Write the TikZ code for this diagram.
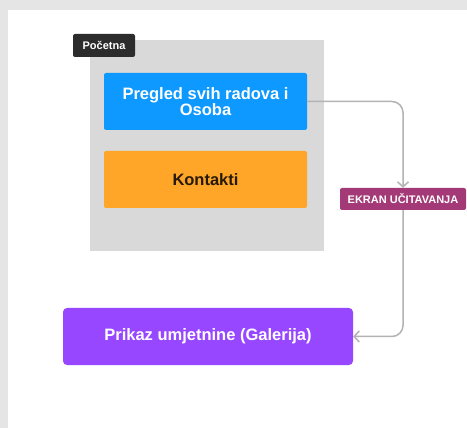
\documentclass[tikz,border=0pt]{standalone}
\usepackage{fontspec}
\setmainfont{Liberation Sans}
\usepackage{tikz}
\usetikzlibrary{positioning, arrows.meta}
\definecolor{frame}{HTML}{D9D9D9}
\definecolor{tagdark}{HTML}{2C2C2C}
\definecolor{boxblue}{HTML}{0D99FF}
\definecolor{boxorange}{HTML}{FFA629}
\definecolor{boxpurple}{HTML}{9747FF}
\definecolor{loading}{HTML}{A33A77}
\definecolor{wire}{HTML}{B3B3B3}
\newcommand{\boxtext}[1]{\fontsize{16.5}{17}\selectfont\bfseries #1}

\begin{document}
\begin{tikzpicture}[x=1pt, y=-1pt,
    box/.style={rectangle, rounded corners=2pt, minimum width=203pt, minimum height=57pt, align=center, inner sep=0pt},
    tag/.style={rectangle, rounded corners=2pt, text=white, font=\fontsize{11}{12}\selectfont\bfseries, inner sep=0pt},
    conn/.style={draw=wire, line width=1.5pt, rounded corners=11pt, -{Straight Barb[length=5pt, width=11pt]}}]
    \useasboundingbox (0,0) rectangle (467,428);
    \fill[black!10] (0,0) rectangle (467,428);
    \fill[white] (8,10) rectangle (467,428);
    \node (pocetna) at (207,145.5) [rectangle, fill=frame, minimum width=234pt, minimum height=211pt] {};
    \node (tagpocetna) at (104,45.5) [tag, fill=tagdark, minimum width=62pt, minimum height=23pt] {Početna};
    \node (pregled) at (205.5,101.5) [box, fill=boxblue, text=white] {\boxtext{Pregled svih radova i}\\[-1pt]\boxtext{Osoba}};
    \node (kontakti) at (205.5,179.5) [box, fill=boxorange, text=black!85!boxorange] {\boxtext{Kontakti}};
    \node (prikaz) at (208,336.5) [box, fill=boxpurple, text=white, minimum width=290pt, rounded corners=4pt] {\boxtext{Prikaz umjetnine (Galerija)}};
    \node (ekran) at (403,199) [tag, fill=loading, minimum width=126pt, minimum height=22pt] {EKRAN UČITAVANJA};
    \draw[conn] (pregled.east) -| (ekran.north);
    \draw[conn] (ekran.south) |- (prikaz.east);
\end{tikzpicture}
\end{document}
